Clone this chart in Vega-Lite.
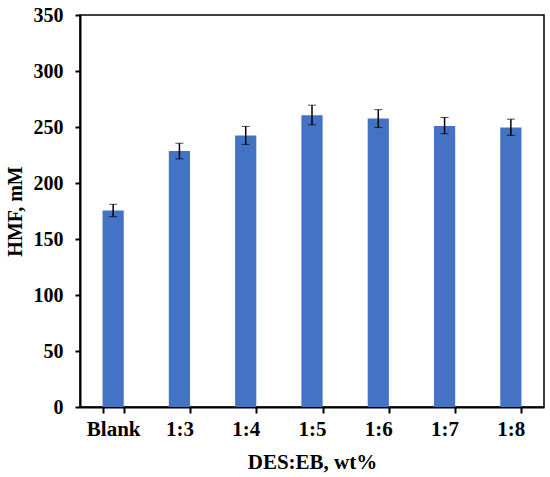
{
  "$schema": "https://vega.github.io/schema/vega-lite/v6.json",
  "width": 464,
  "height": 392,
  "autosize": "none",
  "padding": {"left": 80, "top": 15, "right": 6, "bottom": 70},
  "background": "white",
  "data": {
    "values": [
      {"ratio": "Blank", "hmf": 175.5, "lo": 170, "hi": 181},
      {"ratio": "1:3", "hmf": 228.5, "lo": 221.5, "hi": 235.5},
      {"ratio": "1:4", "hmf": 242.5, "lo": 234.5, "hi": 250.5},
      {"ratio": "1:5", "hmf": 260.5, "lo": 252, "hi": 269.5},
      {"ratio": "1:6", "hmf": 257.5, "lo": 249.5, "hi": 265.5},
      {"ratio": "1:7", "hmf": 251, "lo": 244, "hi": 258.5},
      {"ratio": "1:8", "hmf": 249.5, "lo": 242.5, "hi": 257}
    ]
  },
  "config": {
    "font": "Liberation Serif",
    "view": {"stroke": "#000000", "strokeWidth": 1.5},
    "axis": {
      "labelFont": "Liberation Serif",
      "labelFontWeight": "bold",
      "labelFontSize": 20,
      "labelColor": "#000000",
      "titleFont": "Liberation Serif",
      "titleFontWeight": "bold",
      "titleFontSize": 20,
      "titleColor": "#000000",
      "domainColor": "#000000",
      "domainWidth": 2,
      "tickColor": "#000000",
      "tickWidth": 2,
      "tickSize": 6,
      "grid": false
    }
  },
  "encoding": {
    "x": {
      "field": "ratio",
      "type": "nominal",
      "sort": null,
      "title": "DES:EB, wt%",
      "scale": {"paddingInner": 0.68, "paddingOuter": 0.34},
      "axis": {"labelAngle": 0, "tickBand": "extent", "labelPadding": 5, "labelFontSize": 21, "titleFontSize": 21, "titleBaseline": "alphabetic", "titleY": 61}
    }
  },
  "layer": [
    {
      "mark": {"type": "bar", "color": "#4472C4"},
      "encoding": {
        "y": {
          "field": "hmf",
          "type": "quantitative",
          "title": "HMF, mM",
          "scale": {"domain": [0, 350], "nice": false},
          "axis": {"values": [0, 50, 100, 150, 200, 250, 300, 350], "labelPadding": 12, "tickSize": 5, "titleX": -65, "titleY": 196, "titleBaseline": "middle"}
        }
      }
    },
    {
      "mark": {"type": "errorbar", "ticks": {"size": 8, "color": "#000000", "strokeWidth": 1.8}, "rule": {"color": "#000000", "strokeWidth": 1.5}},
      "encoding": {
        "y": {"field": "lo", "type": "quantitative", "title": "HMF, mM"},
        "y2": {"field": "hi"}
      }
    }
  ]
}
